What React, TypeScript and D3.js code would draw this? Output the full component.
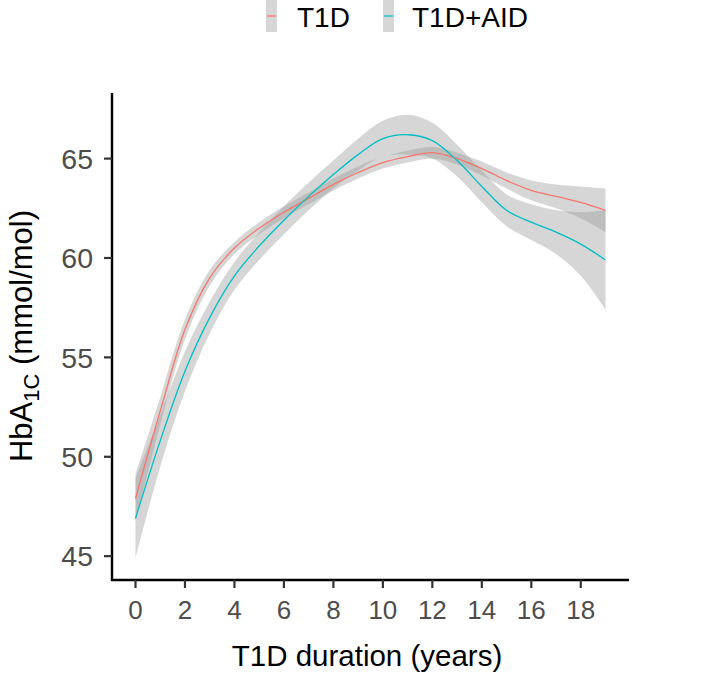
import React from "react";
import * as d3 from "d3";

const years = [0, 1, 2, 3, 4, 5, 6, 7, 8, 9, 10, 11, 12, 13, 14, 15, 16, 17, 18, 19];
const t1dMean = [47.9, 52.3, 56.4, 59.0, 60.5, 61.5, 62.3, 63.0, 63.7, 64.3, 64.8, 65.1, 65.3, 65.0, 64.5, 63.9, 63.4, 63.1, 62.8, 62.4];
const t1dHalf = [1.2, 0.7, 0.5, 0.4, 0.3, 0.3, 0.3, 0.3, 0.3, 0.3, 0.3, 0.3, 0.3, 0.3, 0.35, 0.4, 0.5, 0.6, 0.8, 1.1];
const aidMean = [46.9, 50.8, 54.3, 57.0, 59.1, 60.6, 61.9, 63.1, 64.2, 65.2, 66.0, 66.2, 65.9, 64.9, 63.6, 62.4, 61.8, 61.3, 60.7, 59.9];
const aidHalf = [2.0, 1.3, 1.0, 0.8, 0.7, 0.7, 0.7, 0.7, 0.7, 0.8, 0.9, 1.0, 0.9, 0.8, 0.8, 0.8, 0.9, 1.1, 1.6, 2.5];

const seriesNames = ["T1D", "T1D+AID"];
const seriesColors = ["#F8766D", "#00BFC4"];
const xTicks = [0, 2, 4, 6, 8, 10, 12, 14, 16, 18];
const yTicks = [45, 50, 55, 60, 65];

const W = 708;
const H = 678;
const FONT = "'Liberation Sans', Arial, Helvetica, sans-serif";

export default function App() {
  const left = 112;
  const right = 629;
  const top = 93;
  const bottom = 580;

  const x = d3.scaleLinear().domain([-0.95, 19.95]).range([left, right]);
  const y = d3.scaleLinear().domain([43.8, 68.3]).range([bottom, top]);

  const series = [
    { mean: t1dMean, half: t1dHalf },
    { mean: aidMean, half: aidHalf },
  ];

  const curve = d3.curveCatmullRom.alpha(0.5);
  const line = d3
    .line<number>()
    .x((_, i) => x(years[i]))
    .y((d) => y(d))
    .curve(curve);

  const ribbons = series.map((s) =>
    d3
      .area<number>()
      .x((_, i) => x(years[i]))
      .y0((d, i) => y(d - s.half[i]))
      .y1((d, i) => y(d + s.half[i]))
      .curve(curve)(s.mean)
  );

  return (
    <svg
      width={W}
      height={H}
      style={{ position: "absolute", left: 0, top: 0, background: "#fff" }}
      fontFamily={FONT}
    >
      <rect x={0} y={0} width={W} height={H} fill="#fff" />
      {ribbons.map((p, i) => (
        <path key={"r" + i} d={p || ""} fill="#999999" fillOpacity={0.4} stroke="none" />
      ))}
      {series.map((s, i) => (
        <path key={"l" + i} d={line(s.mean) || ""} fill="none" stroke={seriesColors[i]} strokeWidth={1.3} />
      ))}

      <line x1={left} x2={left} y1={top} y2={bottom + 1} stroke="#000" strokeWidth={2.4} />
      <line x1={left - 1} x2={right} y1={bottom} y2={bottom} stroke="#000" strokeWidth={2.4} />
      {yTicks.map((t) => (
        <g key={"y" + t}>
          <line x1={left - 8} x2={left} y1={y(t)} y2={y(t)} stroke="#333" strokeWidth={2.2} />
          <text x={left - 19} y={y(t)} dy="0.36em" textAnchor="end" fontSize={28.5} fill="#4d4d4d">
            {t}
          </text>
        </g>
      ))}
      {xTicks.map((t) => (
        <g key={"x" + t}>
          <line x1={x(t)} x2={x(t)} y1={bottom} y2={bottom + 8} stroke="#333" strokeWidth={2.2} />
          <text x={x(t)} y={619} textAnchor="middle" fontSize={26} fill="#4d4d4d">
            {t}
          </text>
        </g>
      ))}

      <text x={367} y={666} textAnchor="middle" fontSize={29.5} fill="#000">
        T1D duration (years)
      </text>
      <text transform={`translate(32, 336) rotate(-90)`} textAnchor="middle" fontSize={31} fill="#000">
        HbA
        <tspan fontSize={22} dy={7}>1C</tspan>
        <tspan dy={-7}> (mmol/mol)</tspan>
      </text>

      {seriesNames.map((n, i) => {
        const kx = i === 0 ? 266 : 383;
        const tx = i === 0 ? 297 : 412;
        return (
          <g key={"lg" + i}>
            <rect x={kx} y={0} width={11} height={32} fill="#999999" fillOpacity={0.4} />
            <line x1={kx + 1} x2={kx + 10} y1={16} y2={16} stroke={seriesColors[i]} strokeWidth={1.3} />
            <text x={tx} y={27} fontSize={28} fill="#000">
              {n}
            </text>
          </g>
        );
      })}
    </svg>
  );
}
